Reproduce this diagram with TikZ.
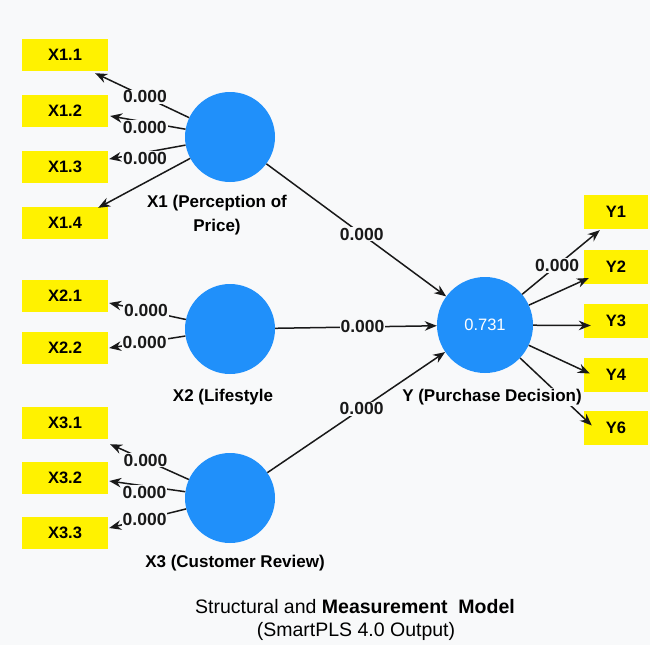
\documentclass[tikz,border=0pt]{standalone}
\usepackage{fontspec}
\setmainfont{Liberation Sans}
\usetikzlibrary{arrows.meta}
\definecolor{bg}{HTML}{F8F9FA}
\definecolor{ylw}{RGB}{255,242,0}
\definecolor{blu}{RGB}{32,144,250}
\begin{document}
\begin{tikzpicture}[x=1pt,y=-1pt,
 ind/.style={fill=ylw, minimum width=86pt, minimum height=32pt, inner sep=0pt, font=\fontsize{16.5}{18}\selectfont\bfseries},
 yind/.style={ind, minimum width=64pt, minimum height=34pt},
 lat/.style={circle, fill=blu, minimum size=90pt, inner sep=0pt},
 arr/.style={-{Stealth[length=12pt,width=9.5pt]}, line width=1.5pt, black!90},
 num/.style={fill=bg, inner sep=1pt, font=\fontsize{17.5}{19}\selectfont\bfseries},
 latcap/.style={font=\fontsize{17}{24}\selectfont\bfseries, align=center},
 ttl/.style={font=\fontsize{19.5}{22}\selectfont}
]
\fill[bg] (0,0) rectangle (650,645);
\useasboundingbox (0,0) rectangle (650,645);

% indicators
\node[ind] (x11) at (65,55) {X1.1};
\node[ind] (x12) at (65,111) {X1.2};
\node[ind] (x13) at (65,167) {X1.3};
\node[ind] (x14) at (65,223) {X1.4};
\node[ind] (x21) at (65,296) {X2.1};
\node[ind] (x22) at (65,348) {X2.2};
\node[ind] (x31) at (65,423) {X3.1};
\node[ind] (x32) at (65,478) {X3.2};
\node[ind] (x33) at (65,533) {X3.3};
\node[yind] (y1) at (616,212) {Y1};
\node[yind] (y2) at (616,267) {Y2};
\node[yind] (y3) at (616,320.5) {Y3};
\node[yind] (y4) at (616,374.5) {Y4};
\node[yind] (y6) at (616,427.5) {Y6};

% latent variables
\node[lat] (x1) at (230,137) {};
\node[lat] (x2) at (230,329) {};
\node[lat] (x3) at (230,498) {};
\node[lat, minimum size=96pt, text=white, font=\fontsize{16.5}{18}\selectfont] (y) at (485,325) {0.731};

\node[latcap] (c1) at (217,215) {X1 (Perception of\\Price)};
\node[latcap] (c2) at (223,397) {X2 (Lifestyle};
\node[latcap] (c3) at (235,563) {X3 (Customer Review)};

% outer loadings X1
\draw[arr] (x1) -- ([shift={(-13,2)}]x11.south east) node[num,pos=0.47]{0.000};
\draw[arr] (x1) -- ([shift={(2,5)}]x12.east) node[num,pos=0.54,yshift=-5pt]{0.000};
\draw[arr] (x1) -- ([shift={(1,-8)}]x13.east) node[num,pos=0.53,yshift=-6pt]{0.000};
\draw[arr] (x1) -- ([shift={(-10,1)}]x14.north east);
% X2
\draw[arr] (x2) -- ([shift={(1,7)}]x21.east) node[num,pos=0.52]{0.000};
\draw[arr] (x2) -- ([shift={(1,0)}]x22.east) node[num,pos=0.535]{0.000};
% X3
\draw[arr] (x3) -- ([shift={(2,5)}]x31.south east) node[num,pos=0.55]{0.000};
\draw[arr] (x3) -- ([shift={(1,3)}]x32.east) node[num,pos=0.535,yshift=-6pt]{0.000};
\draw[arr] (x3) -- ([shift={(1,-5)}]x33.east) node[num,pos=0.54]{0.000};

% structural paths
\draw[arr] (x1) -- (y) node[num,pos=0.53]{0.000};
\draw[arr] (x2) -- (y) node[num,pos=0.54]{0.000};
\draw[arr] (x3) -- (y) node[num,pos=0.53]{0.000};

% Y indicators
\draw[arr] (y) -- ([shift={(16,1)}]y1.south west) node[num,pos=0.45]{0.000};
\draw[arr] (y) -- ([shift={(5,11)}]y2.west);
\draw[arr] (y) -- ([shift={(7,5)}]y3.west);
\draw[arr] (y) -- ([shift={(6,-1)}]y4.west);
\draw[arr] (y) -- ([shift={(8,-2)}]y6.west);

\node[latcap, fill=bg, inner sep=1pt] (cy) at (492,397) {Y (Purchase Decision)};

% title
\node[ttl] (t1) at (355,607) {Structural and \textbf{Measurement\ \ Model}};
\node[ttl] (t2) at (356,631) {(SmartPLS 4.0 Output)};
\end{tikzpicture}
\end{document}
